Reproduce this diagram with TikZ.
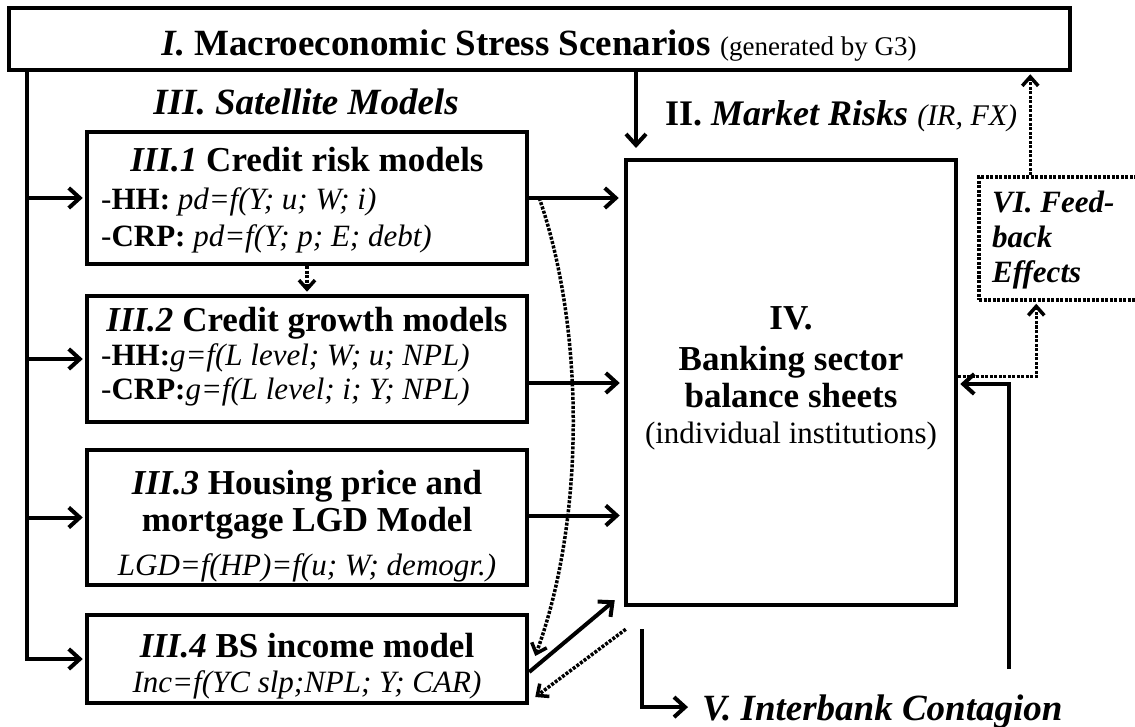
\documentclass[tikz,border=0pt]{standalone}
\usepackage{fontspec}
\setmainfont{Liberation Serif}
\usetikzlibrary{arrows.meta}
\newcommand\myfs[1]{\fontsize{#1}{#1}\selectfont}
\tikzset{
  box/.style={draw, line width=4.5pt, inner sep=0pt},
  arr/.style={line width=4pt, -{Straight Barb[length=11pt,width=20pt,line width=4pt]}},
  dots/.style={line width=3.5pt, dash pattern=on 3pt off 1.5pt},
  dotarr/.style={dots, -{Straight Barb[length=9pt,width=16pt,line width=3.5pt]}},
  txt/.style={inner sep=0pt, anchor=base},
  txtl/.style={inner sep=0pt, anchor=base west},
}
\begin{document}
\begin{tikzpicture}[x=1pt,y=-1pt]
\useasboundingbox (0,0) rectangle (1135,727);
\clip (0,0) rectangle (1135,727);

% boxes
\node[box, minimum width=1061pt, minimum height=62pt] (top) at (539.5,39) {};
\node[box, minimum width=440pt, minimum height=132pt] (b1) at (307,198) {};
\node[box, minimum width=440pt, minimum height=126pt] (b2) at (307,359) {};
\node[box, minimum width=440pt, minimum height=135pt] (b3) at (307,517.5) {};
\node[box, minimum width=440pt, minimum height=88pt] (b4) at (307,659) {};
\node[box, minimum width=330pt, minimum height=445pt] (iv) at (791,382.5) {};
\node[draw, dots, inner sep=0pt, minimum width=166pt, minimum height=123pt] (fb) at (1062,238.5) {};

% texts
\node[txt] (ttl) at (539,56) {\myfs{37}\textbf{\textit{I.} Macroeconomic Stress Scenarios} {\myfs{27}(generated by G3)}};
\node[txt] (sat) at (306,115) {\myfs{37}\bfseries\itshape III. Satellite Models};
\node[txtl] (mkt) at (665,126) {\myfs{36}\textbf{II. \textit{Market Risks}} {\myfs{30}\textit{(IR, FX)}}};

\node[txt] (b1a) at (307,172) {\myfs{35}\textbf{\textit{III.1} Credit risk models}};
\node[txtl] (b1b) at (101,210) {\myfs{31}-\textbf{HH:} \textit{pd=f(Y; u; W; i)}};
\node[txtl] (b1c) at (101,247) {\myfs{31}-\textbf{CRP:} \textit{pd=f(Y; p; E; debt)}};

\node[txt] (b2a) at (307,331) {\myfs{35}\textbf{\textit{III.2} Credit growth models}};
\node[txtl] (b2b) at (101,365) {\myfs{31}-\textbf{HH:}\textit{g=f(L level; W; u; NPL)}};
\node[txtl] (b2c) at (101,399) {\myfs{31}-\textbf{CRP:}\textit{g=f(L level; i; Y; NPL)}};

\node[txt] (b3a) at (307,494) {\myfs{35}\textbf{\textit{III.3} Housing price and}};
\node[txt] (b3b) at (307,531) {\myfs{35}\textbf{mortgage LGD Model}};
\node[txt] (b3c) at (307,575) {\myfs{31}\textit{LGD=f(HP)=f(u; W; demogr.)}};

\node[txt] (b4a) at (307,657) {\myfs{35}\textbf{\textit{III.4} BS income model}};
\node[txt] (b4b) at (307,692) {\myfs{31}\textit{Inc=f(YC slp;NPL; Y; CAR)}};

\node[txt] (iva) at (791,330) {\myfs{35}\textbf{IV.}};
\node[txt] (ivb) at (791,370) {\myfs{35}\textbf{Banking sector}};
\node[txt] (ivc) at (791,407) {\myfs{35}\textbf{balance sheets}};
\node[txt] (ivd) at (791,443) {\myfs{31}(individual institutions)};

\node[txtl] (fba) at (992,213) {\myfs{31}\bfseries\itshape VI. Feed-};
\node[txtl] (fbb) at (992,248) {\myfs{31}\bfseries\itshape back};
\node[txtl] (fbc) at (992,283) {\myfs{31}\bfseries\itshape Effects};

\node[txtl] (cont) at (702,720) {\myfs{37}\bfseries\itshape V. Interbank Contagion};

% trunk and inputs to satellite models
\coordinate (tr) at (27,70);
\draw[arr, shorten >=2pt] (tr) |- (b4.west);
\foreach \b in {b1,b2,b3} \draw[arr, shorten >=2pt] (tr |- \b.west) -- (\b.west);

% satellite models to IV
\draw[arr, shorten >=5pt] (b1.east) -- (b1.east -| iv.west);
\draw[arr, shorten >=4pt] ([yshift=-24pt]b2.east) -- ([yshift=-24pt]b2.east -| iv.west);
\draw[arr, shorten >=4pt] ([yshift=2pt]b3.east) -- ([yshift=2pt]b3.east -| iv.west);
\draw[dotarr, shorten >=2pt] (b1.south) -- (b2.north);

% market risks arrow
\coordinate (mtip) at (636,148);
\draw[arr] (top.south -| mtip) -- (mtip);

% dotted curve from III.1 to III.4
\draw[dotarr] ([xshift=10pt]b1.east) .. controls (585,330) and (585,520) .. ([xshift=6pt,yshift=3pt]b4.east);

% III.4 <-> IV
\draw[arr] ([yshift=-13pt]b4.east) -- ([xshift=-9pt,yshift=7pt]iv.south west);
\draw[dotarr] ([xshift=2pt,yshift=-22pt]iv.south west) -- ([xshift=6pt,yshift=-38pt]b4.east);

% interbank contagion
\draw[arr, shorten >=14pt] ([xshift=18pt,yshift=-22pt]iv.south west) |- ([yshift=4pt]cont.west);

% right side loops
\coordinate (rb) at (1009,669);
\draw[arr, shorten >=2pt] (rb) |- ([yshift=-1.5pt]iv.east);
\draw[dotarr, shorten >=2pt] ([yshift=6pt]iv.east) -| ([xshift=59pt]fb.south west);
\draw[dotarr, line width=2.5pt, shorten >=2pt] ([xshift=53pt]fb.north west) -- ([xshift=53pt]fb.north west |- top.south);
\end{tikzpicture}
\end{document}
